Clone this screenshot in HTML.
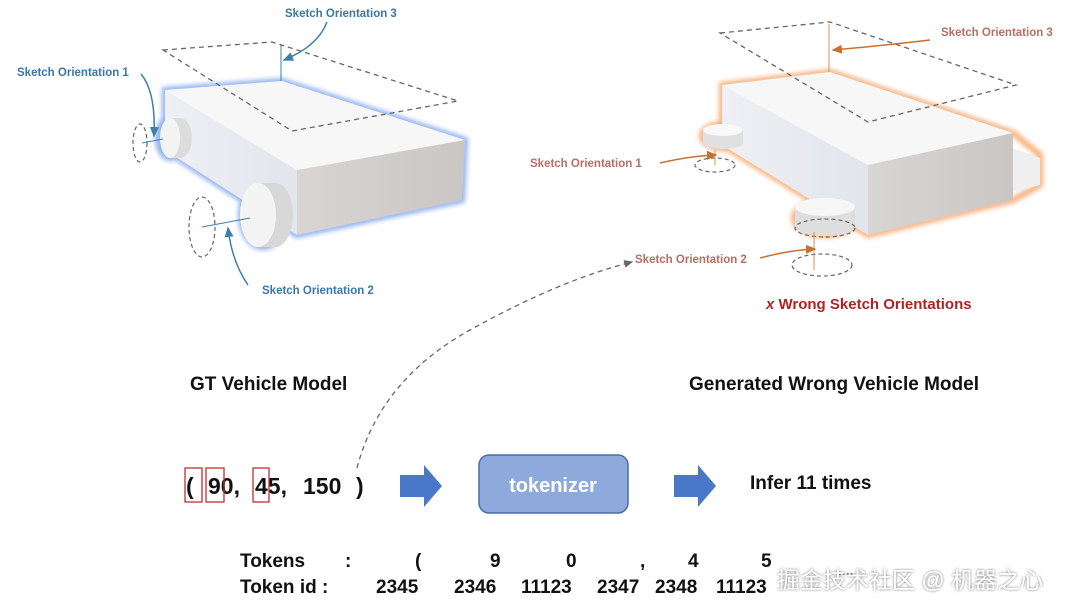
<!DOCTYPE html>
<html><head><meta charset="utf-8"><style>
html,body{margin:0;padding:0;background:#fff;}
svg{display:block;}
text{font-family:"Liberation Sans","Noto Sans CJK SC",sans-serif;font-weight:bold;}
</style></head><body>
<svg width="1080" height="612" viewBox="0 0 1080 612" xmlns="http://www.w3.org/2000/svg">
<defs>
<filter id="gb" x="-20%" y="-20%" width="140%" height="140%"><feGaussianBlur stdDeviation="2.5"/></filter>
<filter id="ws" x="-5%" y="-20%" width="110%" height="140%"><feDropShadow dx="0" dy="0" stdDeviation="1.2" flood-color="#555" flood-opacity="0.9"/></filter>
<marker id="ab" markerWidth="8" markerHeight="8" refX="6" refY="4" orient="auto"><path d="M0,1 L7,4 L0,7z" fill="#3f7fa8"/></marker>
<marker id="ao" markerWidth="8" markerHeight="8" refX="6" refY="4" orient="auto"><path d="M0,1 L7,4 L0,7z" fill="#c8702f"/></marker>
<marker id="ag" markerWidth="8" markerHeight="8" refX="6" refY="4" orient="auto"><path d="M0,1 L7,4 L0,7z" fill="#666"/></marker>
<linearGradient id="fr" x1="0" y1="0" x2="1" y2="0"><stop offset="0" stop-color="#d8d5d3"/><stop offset="1" stop-color="#cac6c3"/></linearGradient>
<linearGradient id="sd" x1="0" y1="0" x2="1" y2="0"><stop offset="0" stop-color="#eef0f5"/><stop offset="1" stop-color="#e2e5ec"/></linearGradient>
</defs>

<!-- LEFT CAR -->
<g>
<g fill="none" stroke="#8fb2f0" stroke-width="6" filter="url(#gb)">
<path d="M165,90 L282,81 L465,140 L462,200 L297,235 L165,150 Z"/>
<ellipse cx="170" cy="138" rx="12" ry="20"/>
<ellipse cx="263" cy="215" rx="22" ry="32"/>
</g>
<path d="M165,90 L297,170 L297,235 L165,150 Z" fill="url(#sd)"/>
<path d="M165,90 L282,81 L465,140 L297,170 Z" fill="#f7f7f8"/>
<path d="M297,170 L465,140 L462,200 L297,235 Z" fill="url(#fr)"/>
<path d="M170,118 L180,118 A12,20 0 0 1 180,158 L170,158 Z" fill="#dcdcdc"/>
<ellipse cx="170" cy="138" rx="10" ry="20" fill="#f3f3f3"/>
<path d="M258,183 L275,183 A18,32 0 0 1 275,247 L258,247 Z" fill="#d8d8d8"/>
<ellipse cx="258" cy="215" rx="18" ry="32" fill="#f4f4f4"/>
<path d="M163,50 L272,42 L458,101 L292,131 Z" fill="none" stroke="#666" stroke-width="1.3" stroke-dasharray="5,4"/>
<ellipse cx="140" cy="143" rx="7" ry="19" fill="none" stroke="#666" stroke-width="1.2" stroke-dasharray="4,3"/>
<ellipse cx="202" cy="227" rx="13" ry="30" fill="none" stroke="#666" stroke-width="1.2" stroke-dasharray="4,3"/>
<line x1="142" y1="143" x2="163" y2="139" stroke="#3f7fa8" stroke-width="1"/>
<line x1="202" y1="227" x2="250" y2="218" stroke="#3f7fa8" stroke-width="1"/>
<line x1="281" y1="81" x2="281" y2="44" stroke="#3f7fa8" stroke-width="1"/>
<path d="M141,74 Q156,92 154,136" fill="none" stroke="#3f7fa8" stroke-width="1.5" marker-end="url(#ab)"/>
<path d="M327,22 Q318,46 284,60" fill="none" stroke="#3f7fa8" stroke-width="1.5" marker-end="url(#ab)"/>
<path d="M248,285 Q232,262 228,228" fill="none" stroke="#3f7fa8" stroke-width="1.5" marker-end="url(#ab)"/>
<text x="17" y="76" font-size="11.5" fill="#3a78a8">Sketch Orientation 1</text>
<text x="285" y="17" font-size="11.5" fill="#3a78a8">Sketch Orientation 3</text>
<text x="262" y="294" font-size="11.5" fill="#3a78a8">Sketch Orientation 2</text>
</g>

<!-- RIGHT CAR -->
<g>
<g fill="none" stroke="#f9b07a" stroke-width="6" filter="url(#gb)">
<path d="M722,85 L830,72 L1013,133 L1040,155 L1040,185 L1013,200 L868,235 L722,145 Z"/>
<ellipse cx="723" cy="136" rx="21" ry="12"/>
<ellipse cx="825" cy="218" rx="31" ry="17"/>
</g>
<path d="M1013,148 L1040,158 L1040,185 L1013,192 Z" fill="#efefef"/>
<path d="M722,85 L868,165 L868,235 L722,145 Z" fill="url(#sd)"/>
<path d="M722,85 L830,72 L1013,133 L868,165 Z" fill="#f7f7f8"/>
<path d="M868,165 L1013,133 L1013,200 L868,235 Z" fill="url(#fr)"/>
<path d="M703,130 L703,143 A20,6 0 0 0 743,143 L743,130 Z" fill="#e0e0e0"/>
<ellipse cx="723" cy="130" rx="20" ry="6" fill="#f8f8f8"/>
<path d="M795,207 L795,227 A30,9 0 0 0 855,227 L855,207 Z" fill="#dedede"/>
<ellipse cx="825" cy="207" rx="30" ry="9" fill="#f6f6f6"/>
<path d="M720,33 L830,22 L1016,85 L868,122 Z" fill="none" stroke="#666" stroke-width="1.3" stroke-dasharray="5,4"/>
<ellipse cx="715" cy="165" rx="20" ry="7" fill="none" stroke="#666" stroke-width="1.2" stroke-dasharray="4,3"/>
<ellipse cx="825" cy="228" rx="30" ry="9" fill="none" stroke="#666" stroke-width="1.2" stroke-dasharray="4,3"/>
<ellipse cx="822" cy="265" rx="30" ry="11" fill="none" stroke="#666" stroke-width="1.2" stroke-dasharray="4,3"/>
<line x1="829" y1="72" x2="829" y2="24" stroke="#e09050" stroke-width="1"/>
<line x1="715" y1="165" x2="715" y2="150" stroke="#e09050" stroke-width="1"/>
<line x1="814" y1="270" x2="814" y2="232" stroke="#e09050" stroke-width="1"/>
<path d="M930,40 Q880,46 833,50" fill="none" stroke="#c8702f" stroke-width="1.5" marker-end="url(#ao)"/>
<path d="M660,163 Q690,156 716,155" fill="none" stroke="#c8702f" stroke-width="1.5" marker-end="url(#ao)"/>
<path d="M760,258 Q790,250 815,249" fill="none" stroke="#c8702f" stroke-width="1.5" marker-end="url(#ao)"/>
<text x="941" y="36" font-size="11.5" fill="#b86e64">Sketch Orientation 3</text>
<text x="530" y="167" font-size="11.5" fill="#b86e64">Sketch Orientation 1</text>
<text x="635" y="263" font-size="11.5" fill="#b86e64">Sketch Orientation 2</text>
<text x="766" y="309" font-size="15" fill="#b22222"><tspan font-style="italic">x</tspan> Wrong Sketch Orientations</text>
</g>

<!-- titles -->
<text x="190" y="390" font-size="19" fill="#111">GT  Vehicle Model</text>
<text x="689" y="390" font-size="19" fill="#111">Generated Wrong Vehicle Model</text>

<!-- dashed curve -->
<path d="M357,468 Q380,380 470,330 Q560,280 632,262" fill="none" stroke="#666" stroke-width="1.3" stroke-dasharray="5,4" marker-end="url(#ag)"/>

<!-- tuple -->
<g font-size="23" fill="#111">
<text x="186" y="494">(</text>
<text x="208" y="494">90,</text>
<text x="255" y="494">45,</text>
<text x="303" y="494">150</text>
<text x="356" y="494">)</text>
</g>
<rect x="185" y="468" width="17" height="34" fill="none" stroke="#c03030" stroke-width="1.3"/>
<rect x="206" y="468" width="18" height="34" fill="none" stroke="#c03030" stroke-width="1.3"/>
<rect x="253" y="468" width="16" height="34" fill="none" stroke="#c03030" stroke-width="1.3"/>

<path d="M400,475 L424,475 L424,465 L442,486 L424,507 L424,497 L400,497 Z" fill="#4a78c8"/>
<rect x="479" y="455" width="149" height="58" rx="10" fill="#8eaadc" stroke="#4a6ea8" stroke-width="1.5"/>
<text x="553" y="492" font-size="20" fill="#fff" text-anchor="middle">tokenizer</text>
<path d="M674,475 L698,475 L698,465 L716,486 L698,507 L698,497 L674,497 Z" fill="#4a78c8"/>
<text x="750" y="489" font-size="19" fill="#111">Infer 11 times</text>

<!-- tokens -->
<g font-size="19" fill="#111">
<text x="240" y="567">Tokens</text>
<text x="345" y="567">:</text>
<text x="415" y="567">(</text>
<text x="490" y="567">9</text>
<text x="566" y="567">0</text>
<text x="640" y="567">,</text>
<text x="688" y="567">4</text>
<text x="761" y="567">5</text>
<text x="240" y="593">Token  id :</text>
<text x="376" y="593">2345</text>
<text x="454" y="593">2346</text>
<text x="521" y="593">11123</text>
<text x="597" y="593">2347</text>
<text x="655" y="593">2348</text>
<text x="716" y="593">11123</text>
</g>
<text x="838" y="575" font-size="14" fill="#888">....</text>
<text x="777" y="588" font-size="23" fill="#fff" style="font-weight:normal" filter="url(#ws)">掘金技术社区 @ 机器之心</text>
</svg>
</body></html>
